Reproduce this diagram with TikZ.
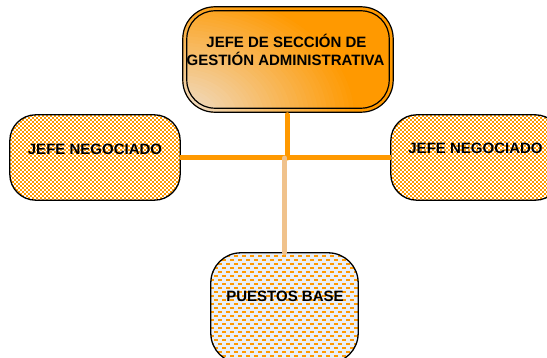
\documentclass[tikz,border=0pt]{standalone}
\usepackage{fontspec}
\setmainfont{Liberation Sans}
\definecolor{org}{RGB}{255,153,0}
\definecolor{beige}{RGB}{238,226,214}
\definecolor{lightln}{RGB}{240,194,140}
\definecolor{bluebg}{RGB}{234,240,248}
\tikzset{
  lbl/.style={font=\bfseries\fontsize{15}{18}\selectfont, inner sep=0pt, text=black},
  boxborder/.style={draw=black, line width=1.3pt},
  chkrow/.style={draw=org, line width=2pt, dash pattern=on 2pt off 2pt},
  brkrow/.style={draw=org, line width=2pt, dash pattern=on 4pt off 4pt},
  conn/.style={line width=5pt, draw=org},
  connlight/.style={line width=5pt, draw=lightln, line cap=round},
}
\begin{document}
\begin{tikzpicture}[x=1pt,y=-1pt]
\useasboundingbox (0,0) rectangle (547,358);
% ---- box nodes
\node[minimum width=210pt, minimum height=105pt, inner sep=0pt] (top) at (288,59.5) {};
\node[minimum width=170pt, minimum height=85pt, inner sep=0pt] (left) at (95,157.5) {};
\node[minimum width=170pt, minimum height=85pt, inner sep=0pt] (right) at (476,157.5) {};
\node[minimum width=147pt, minimum height=110pt, inner sep=0pt] (bottom) at (284.5,308) {};
% ---- top box: gradient and double border
\begin{scope}
  \clip[rounded corners=32pt] (top.north west) rectangle (top.south east);
  \fill[org] (top.north west) rectangle (top.south east);
  \coordinate (gc) at ([shift={(-5,6)}]top.south west);
  \foreach \k in {40,39,...,0} {
    \pgfmathtruncatemacro\pc{\k*2.5}
    \pgfmathsetmacro\rx{4.5*\k+1}
    \pgfmathsetmacro\ry{3.25*\k+1}
    \fill[org!\pc!beige] (gc) ellipse [x radius=\rx pt, y radius=\ry pt];
  }
\end{scope}
\draw[draw=black, line width=1.2pt, rounded corners=32pt] (top.north west) rectangle (top.south east);
\draw[draw=black, line width=1.2pt, rounded corners=28pt]
  ([shift={(4,4)}]top.north west) rectangle ([shift={(-4,-4)}]top.south east);
% ---- side boxes (checker)
\begin{scope}
  \clip[rounded corners=26pt] (left.north west) rectangle (left.south east);
  \fill[white] (left.north west) rectangle (left.south east);
  \foreach \yy in {116,120,...,200} \draw[chkrow] (10,\yy) -- (182,\yy);
  \foreach \yy in {118,122,...,202} \draw[chkrow, dash phase=2pt] (10,\yy) -- (182,\yy);
\end{scope}
\begin{scope}
  \clip[rounded corners=26pt] (right.north west) rectangle (right.south east);
  \fill[white] (right.north west) rectangle (right.south east);
  \foreach \yy in {116,120,...,200} \draw[chkrow] (390,\yy) -- (562,\yy);
  \foreach \yy in {118,122,...,202} \draw[chkrow, dash phase=2pt] (390,\yy) -- (562,\yy);
\end{scope}
% ---- bottom box (bricks)
\begin{scope}
  \clip[rounded corners=30pt] (bottom.north west) rectangle (bottom.south east);
  \fill[bluebg] (bottom.north west) rectangle (bottom.south east);
  \foreach \yy in {256,264,...,364} \draw[brkrow] (210,\yy) -- (362,\yy);
  \foreach \yy in {260,268,...,364} \draw[brkrow, dash phase=4pt] (210,\yy) -- (362,\yy);
\end{scope}
\draw[boxborder, rounded corners=26pt] (left.north west) rectangle (left.south east);
\draw[boxborder, rounded corners=26pt] (right.north west) rectangle (right.south east);
\draw[boxborder, rounded corners=30pt] (bottom.north west) rectangle (bottom.south east);
% ---- connectors
\coordinate (j) at (287,158);
\draw[conn, line cap=round, shorten <=2.5pt] (top.south -| j) -- (j);
\draw[conn] (left.east) -- (right.west);
\draw[connlight] (bottom.north) -- (bottom.north |- j);
% ---- texts
\node[lbl, anchor=base] (t1) at (286.5,48) {JEFE DE SECCIÓN DE};
\node[lbl, anchor=base] (t2) at (285.5,66) {GESTIÓN ADMINISTRATIVA};
\node[lbl, anchor=base] (tl) at (95,155) {JEFE NEGOCIADO};
\node[lbl, anchor=base] (tr) at (475.5,154) {JEFE NEGOCIADO};
\node[lbl, anchor=base] (tb) at (285,302) {PUESTOS BASE};
\end{tikzpicture}
\end{document}
